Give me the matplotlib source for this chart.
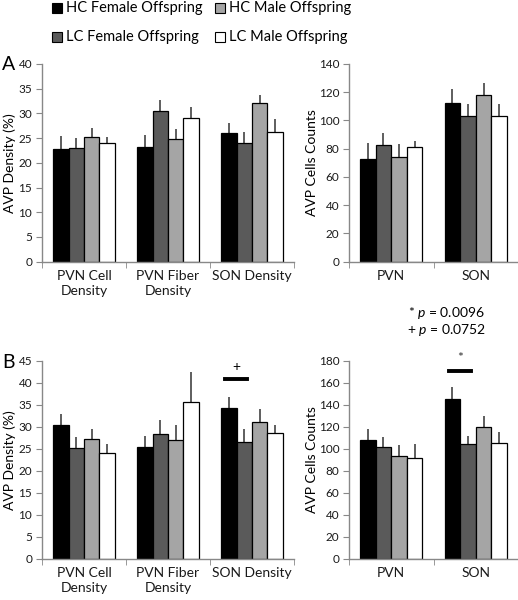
import numpy as np
import matplotlib
matplotlib.use("Agg")
import matplotlib.pyplot as plt
from matplotlib.lines import Line2D

plt.rcParams['font.family'] = ['Lato', 'DejaVu Sans']
plt.rcParams['mathtext.fontset'] = 'custom'
plt.rcParams['mathtext.it'] = 'Lato:italic'
plt.rcParams['mathtext.rm'] = 'Lato'

groups = ['HC Female Offspring', 'LC Female Offspring', 'HC Male Offspring', 'LC Male Offspring']
colors = ['#000000', '#5a5a5a', '#a5a5a5', '#ffffff']

density_labels = ['PVN Cell\nDensity', 'PVN Fiber\nDensity', 'SON Density']
count_labels = ['PVN', 'SON']

# panel A
a_density = [[22.9, 23.3, 26.1], [23.1, 30.5, 24.1], [25.2, 24.8, 32.1], [24.0, 29.1, 26.3]]
a_density_top = [[25.5, 25.7, 28.1], [25.0, 32.7, 26.2], [27.1, 26.9, 33.7], [25.3, 31.3, 28.9]]
a_count = [[73, 112.5], [82.5, 103.5], [74, 118], [81, 103.5]]
a_count_top = [[84, 122.5], [91, 111.5], [83.5, 126.5], [85.5, 111.5]]

# panel B
b_density = [[30.4, 25.5, 34.2], [25.2, 28.4, 26.6], [27.3, 26.9, 31.1], [24.1, 35.7, 28.7]]
b_density_top = [[33.0, 27.8, 36.8], [27.6, 31.6, 29.5], [29.5, 30.5, 34.0], [26.2, 42.5, 30.5]]
b_count = [[108, 145], [102, 104], [93, 120], [92, 105]]
b_count_top = [[118, 156], [111, 112], [103, 130], [104, 115]]

fig = plt.figure(figsize=(5.18, 6.0), dpi=100)

W, H = 518.0, 600.0
def add_ax(x0, y0, x1, y1):
    return fig.add_axes([x0 / W, 1 - y1 / H, (x1 - x0) / W, (y1 - y0) / H])

ax_a1 = add_ax(42, 64, 294, 261.7)
ax_a2 = add_ax(349, 64, 518, 261.7)
ax_b1 = add_ax(42, 361, 294, 558.5)
ax_b2 = add_ax(349, 361, 518, 558.5)

bw = 0.184

def draw(ax, vals, tops, labels, ymax, ystep, ylabel, label_x):
    n = len(labels)
    x = np.arange(n)
    centers = []
    for i in range(4):
        xi = x - 1.5 * bw + i * bw
        v = np.array(vals[i])
        err = np.array(tops[i]) - v
        ax.bar(xi, v, bw, color=colors[i], edgecolor='black', linewidth=0.9, zorder=2)
        ax.errorbar(xi, v, yerr=[np.zeros(n), err], fmt='none', ecolor='#333333',
                    elinewidth=1.1, capsize=0, zorder=1)
        centers.append(xi)
    ax.set_xlim(-0.5, n - 0.5)
    ax.set_ylim(0, ymax)
    ax.set_yticks(np.arange(0, ymax + 0.1, ystep))
    ax.set_xticks(x)
    ax.set_xticklabels(labels, fontsize=10, linespacing=1.3)
    ax.set_xticks(np.arange(-0.5, n, 1), minor=True)
    ax.tick_params(axis='x', which='major', length=0, pad=6, colors='#1a1a1a')
    ax.tick_params(axis='x', which='minor', length=4, color='#888888', direction='out')
    ax.tick_params(axis='y', length=4, color='#888888', labelsize=8.5, colors='#1a1a1a', pad=3)
    ax.tick_params(axis='y', color='#888888')
    for s in ['top', 'right']:
        ax.spines[s].set_visible(False)
    for s in ['left', 'bottom']:
        ax.spines[s].set_color('#888888')
        ax.spines[s].set_linewidth(1.0)
    ax.set_ylabel(ylabel, fontsize=10, va='center')
    ax.yaxis.set_label_coords(label_x, 0.5)
    return centers

draw(ax_a1, a_density, a_density_top, density_labels, 40, 5, 'AVP Density (%)', -0.128)
draw(ax_a2, a_count, a_count_top, count_labels, 140, 20, 'AVP Cells Counts', -0.22)
cb1 = draw(ax_b1, b_density, b_density_top, density_labels, 45, 5, 'AVP Density (%)', -0.128)
cb2 = draw(ax_b2, b_count, b_count_top, count_labels, 180, 20, 'AVP Cells Counts', -0.22)

# significance marks
ax_b1.plot([cb1[0][2] - 0.04, cb1[1][2] + 0.03], [41, 41], color='black', lw=2.8, clip_on=False)
ax_b1.text((cb1[0][2] + cb1[1][2]) / 2, 42.3, '+', ha='center', va='bottom', fontsize=10)
ax_b2.plot([cb2[0][1] - 0.04, cb2[1][1] + 0.03], [171, 171], color='black', lw=2.8, clip_on=False)
ax_b2.text((cb2[0][1] + cb2[1][1]) / 2, 177, '*', ha='center', va='bottom', fontsize=10, color='#333333')

fig.text(408 / W, 1 - 313 / H, '* $p$ = 0.0096', fontsize=10, va='center', ha='left')
fig.text(407 / W, 1 - 330 / H, '+ $p$ = 0.0752', fontsize=10, va='center', ha='left')

fig.text(2 / W, 1 - 65 / H, 'A', fontsize=14, va='center', ha='left')
fig.text(2 / W, 1 - 363 / H, 'B', fontsize=14, va='center', ha='left')

# legend
leg_pos = [(57, 8), (57, 37), (220, 8), (220, 37)]
for (lx, ly), g, c in zip(leg_pos, groups, colors):
    fig.add_artist(Line2D([lx / W], [1 - ly / H], marker='s', markersize=7, color=c,
                          markeredgecolor='black', markeredgewidth=0.8, linestyle='none'))
    fig.text((lx + 9) / W, 1 - ly / H, g, fontsize=10.5, va='center', ha='left')

fig.savefig('out.png', dpi=100)
